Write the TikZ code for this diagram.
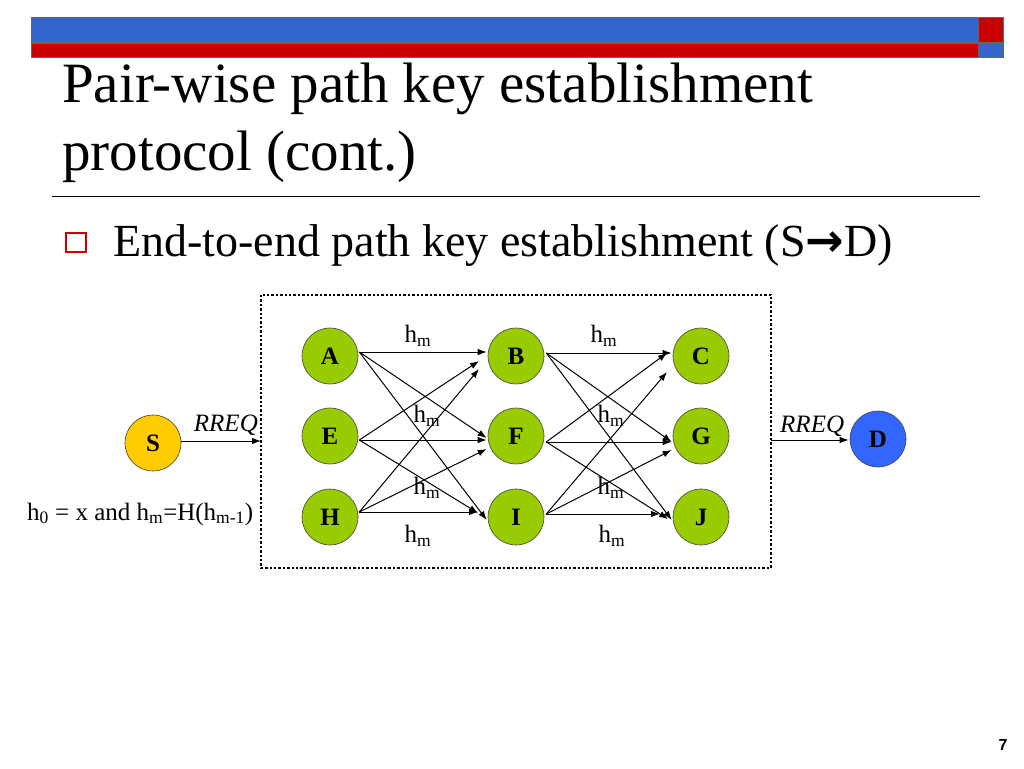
\documentclass[tikz,border=0pt]{standalone}
\usepackage{fontspec}
\setmainfont{Liberation Serif}
\newfontfamily\arialf{Liberation Sans}
\newfontfamily\dejavuf{DejaVu Sans}
\usetikzlibrary{arrows.meta}
\definecolor{barblue}{HTML}{3366CC}
\definecolor{barred}{HTML}{CC0000}
\definecolor{ngreen}{HTML}{99CC00}
\definecolor{nyellow}{HTML}{FFCC00}
\definecolor{nblue}{HTML}{3366FF}
\begin{document}
\begin{tikzpicture}[x=1pt,y=-1pt,
  gnode/.style={circle,draw=black!75,line width=0.6pt,minimum size=56pt,inner sep=0pt,fill=ngreen,
    font=\fontsize{25}{25}\selectfont\bfseries},
  arr/.style={-{Latex[length=9pt,width=6.5pt]},line width=1pt},
  hlab/.style={font=\fontsize{25}{25}\selectfont,inner sep=0pt},
  rlab/.style={font=\fontsize{25}{25}\selectfont\itshape,inner sep=0pt}]
\useasboundingbox (0,0) rectangle (1024,768);
\fill[white] (0,0) rectangle (1024,768);
% top bars
\draw[fill=barblue,draw=black!60,line width=0.6pt] (31,17) rectangle (978,42);
\draw[fill=barred,draw=black!60,line width=0.6pt] (978,17) rectangle (1003,42);
\draw[fill=barred,draw=black!60,line width=0.6pt] (31,43) rectangle (978,57);
\draw[fill=barblue,draw=black!60,line width=0.6pt] (978,43) rectangle (1003,57);
% title
\node[anchor=base west,inner sep=0pt,font=\fontsize{57}{60}\selectfont] (t1) at (62,102) {Pair-wise path key establishment};
\node[anchor=base west,inner sep=0pt,font=\fontsize{57}{60}\selectfont] (t2) at (62,170) {protocol (cont.)};
\draw[line width=1pt] (52,196) -- (980,196);
% bullet
\draw[barred,line width=2.2pt] (66,233) rectangle (86,252);
\node[anchor=base west,inner sep=0pt,font=\fontsize{46}{50}\selectfont] (b1) at (113,256) {End-to-end path key establishment (S{\dejavuf\bfseries\fontsize{46}{46}\selectfont →}D)};
% dotted box
\draw[line width=2.4pt,dash pattern=on 2.4pt off 2pt] (261,295) rectangle (771,568);
% nodes
\node[gnode] (A) at (330,356) {A};
\node[gnode] (E) at (330,436) {E};
\node[gnode] (H) at (330,517) {H};
\node[gnode] (B) at (516,356) {B};
\node[gnode] (F) at (516,436) {F};
\node[gnode] (I) at (516,517) {I};
\node[gnode] (C) at (701,356) {C};
\node[gnode] (G) at (701,436) {G};
\node[gnode] (J) at (701,517) {J};
\node[gnode,fill=nyellow] (S) at (153,443) {S};
\node[gnode,fill=nblue] (D) at (878,439) {D};
% first stage arrows
\draw[arr] ([shift={(1,-4)}]A.east) -- ([shift={(-1,-4)}]B.west);
\draw[arr] ([shift={(1,-4)}]A.east) -- ([shift={(-1,2)}]F.west);
\draw[arr] ([shift={(1,-4)}]A.east) -- ([shift={(-1,3)}]I.west);
\draw[arr] ([shift={(1,4)}]E.east) -- ([shift={(-37,5)}]B.center);
\draw[arr] ([shift={(1,4)}]E.east) -- ([shift={(-1,4)}]F.west);
\draw[arr] ([shift={(1,4)}]E.east) -- ([shift={(-38,-4)}]I.center);
\draw[arr] ([shift={(1,-5)}]H.east) -- ([shift={(-37,13)}]B.center);
\draw[arr] ([shift={(1,-5)}]H.east) -- ([shift={(-1,13)}]F.west);
\draw[arr] ([shift={(1,-5)}]H.east) -- ([shift={(-38,-5)}]I.center);
% second stage arrows
\draw[arr] ([shift={(2,-3)}]B.east) -- ([shift={(-1,-3)}]C.west);
\draw[arr] ([shift={(2,-3)}]B.east) -- ([shift={(-1,6)}]G.west);
\draw[arr] ([shift={(2,-3)}]B.east) -- ([shift={(-1,3)}]J.west);
\draw[arr] ([shift={(2,6)}]F.east) -- ([shift={(-34,-3)}]C.center);
\draw[arr] ([shift={(2,6)}]F.east) -- ([shift={(-1,6)}]G.west);
\draw[arr] ([shift={(2,6)}]F.east) -- ([shift={(-33,2)}]J.center);
\draw[arr] ([shift={(2,-3)}]I.east) -- ([shift={(-34,16)}]C.center);
\draw[arr] ([shift={(2,-3)}]I.east) -- ([shift={(-1,14)}]G.west);
\draw[arr] ([shift={(2,-3)}]I.east) -- ([shift={(-41,-3)}]J.center);
% h_m labels
\node[hlab] (h1) at (418,336) {h\textsubscript{m}};
\node[hlab] (h2) at (604,336) {h\textsubscript{m}};
\node[hlab] (h3) at (427,416) {h\textsubscript{m}};
\node[hlab] (h4) at (611,416) {h\textsubscript{m}};
\node[hlab] (h5) at (427,488) {h\textsubscript{m}};
\node[hlab] (h6) at (611,488) {h\textsubscript{m}};
\node[hlab] (h7) at (418,536) {h\textsubscript{m}};
\node[hlab] (h8) at (612,536) {h\textsubscript{m}};
% S and D connections
\coordinate (boxL) at (261,441);
\coordinate (boxR) at (771,440);
\draw[arr] ([shift={(0,-2)}]S.east) -- (boxL);
\draw[arr] (boxR) -- ([shift={(-1,1)}]D.west);
\node[rlab,anchor=base east] (r1) at (258,431) {RREQ};
\node[rlab,anchor=base west] (r2) at (780,432) {RREQ};
% formula
\node[hlab,anchor=base west] (fm) at (27,520) {h\textsubscript{0} = x and h\textsubscript{m}=H(h\textsubscript{m-1})};
% page number
\node[inner sep=0pt,font=\arialf\bfseries\fontsize{16}{16}\selectfont] (pn) at (1003,745) {7};
\end{tikzpicture}
\end{document}
